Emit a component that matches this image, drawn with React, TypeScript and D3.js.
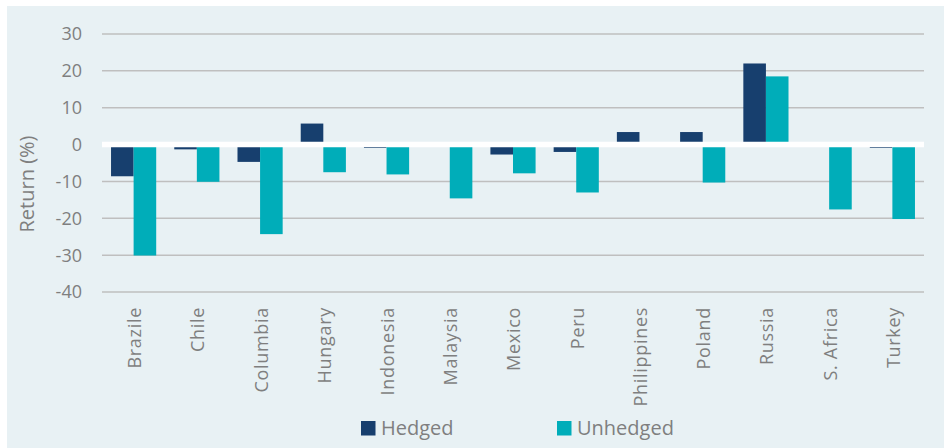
import React from "react";
import * as d3 from "d3";

const categories = ["Brazile", "Chile", "Columbia", "Hungary", "Indonesia", "Malaysia", "Mexico", "Peru", "Philippines", "Poland", "Russia", "S. Africa", "Turkey"];
const hedged = [-8.6, -1.3, -4.7, 5.7, -0.9, 0, -2.7, -2.0, 3.4, 3.4, 22.0, 0, -0.9];
const unhedged = [-30.1, -10.1, -24.3, -7.5, -8.1, -14.6, -7.8, -13.0, 0, -10.3, 18.5, -17.6, -20.2];
const yTicks = [30, 20, 10, 0, -10, -20, -30, -40];
const seriesNames = ["Hedged", "Unhedged"];
const seriesColors = ["#173f6e", "#00adb9"];

const W = 944;
const H = 448;
const FONT = "'Open Sans', sans-serif";
const TXT = "#7f7f7f";

export default function App() {
  const x0 = d3.scaleBand<string>().domain(categories).range([102, 924]);
  const x1 = d3.scaleBand<string>().domain(seriesNames).range([0, x0.bandwidth()]).paddingInner(0).paddingOuter(0.4);
  const y = d3.scaleLinear().domain([-40, 30]).range([292, 34]);
  const values = [hedged, unhedged];

  return (
    <svg width={W} height={H} style={{ position: "absolute", left: 0, top: 0 }} fontFamily={FONT}>
      <rect x={0} y={0} width={W} height={H} fill="#ffffff" />
      <rect x={7} y={6} width={W - 7} height={H - 6} fill="#e8f1f4" />
      {yTicks.filter((t) => t !== 0).map((t) => (
        <line key={t} x1={102} x2={924} y1={y(t)} y2={y(t)} stroke="#bfbfbf" strokeWidth={1.5} />
      ))}
      {yTicks.map((t) => (
        <text key={"l" + t} x={82} y={y(t)} dy="0.36em" textAnchor="end" fontSize={18} fill={TXT}>
          {t}
        </text>
      ))}
      <text transform={`translate(34,184) rotate(-90)`} textAnchor="middle" fontSize={20} fill={TXT}>
        Return (%)
      </text>
      {categories.map((c, i) => (
        <g key={c}>
          {seriesNames.map((s, j) => {
            const v = values[j][i];
            if (v === 0) return null;
            const bx = (x0(c) as number) + (x1(s) as number);
            return (
              <rect
                key={s}
                x={bx}
                width={x1.bandwidth()}
                y={Math.min(y(v), y(0))}
                height={Math.abs(y(v) - y(0))}
                fill={seriesColors[j]}
              />
            );
          })}
        </g>
      ))}
      <line x1={102} x2={924} y1={y(0)} y2={y(0)} stroke="#ffffff" strokeWidth={5.5} />
      {categories.map((c) => {
        const cx = (x0(c) as number) + x0.bandwidth() / 2 + 1;
        return (
          <text key={"x" + c} transform={`translate(${cx},307) rotate(-90)`} textAnchor="end" dy="0.36em" fontSize={18} letterSpacing={0.7} fill={TXT}>
            {c}
          </text>
        );
      })}
      {seriesNames.map((s, j) => {
        const lx = [361, 557][j];
        return (
          <g key={"lg" + s}>
            <rect x={lx} y={421} width={14.5} height={14.5} fill={seriesColors[j]} />
            <text x={lx + 20} y={434.5} fontSize={20} fill={TXT}>
              {s}
            </text>
          </g>
        );
      })}
    </svg>
  );
}
